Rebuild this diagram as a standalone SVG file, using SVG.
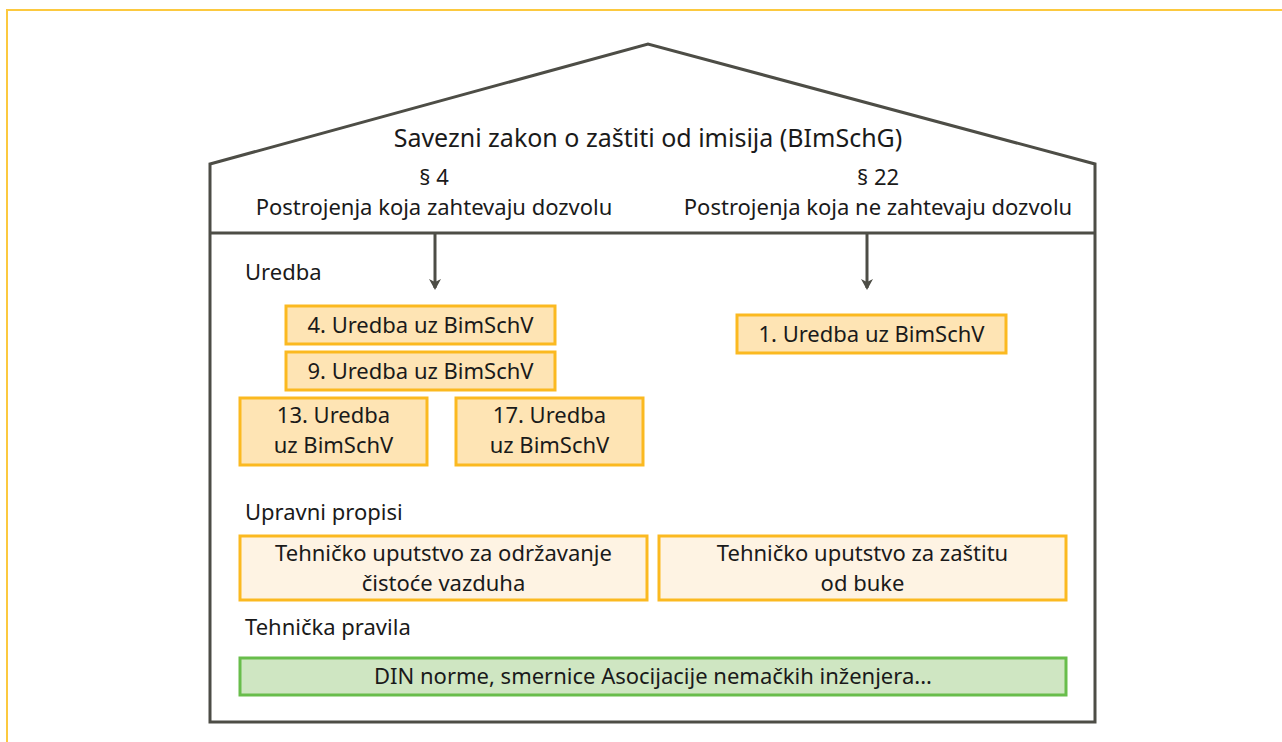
<svg xmlns="http://www.w3.org/2000/svg" width="1282" height="742" viewBox="0 0 1282 742">
<style>
text{font-family:"Noto Sans","Open Sans",sans-serif;font-size:22px;fill:#1a1a1a}
.c{text-anchor:middle}
.house{fill:none;stroke:#4d4d46;stroke-width:3}
.y1{fill:#fee4b4;stroke:#fbb920;stroke-width:3}
.y2{fill:#fef3e3;stroke:#fbb920;stroke-width:3}
.g{fill:#cfe6c2;stroke:#68bd4b;stroke-width:3}
.arr{stroke:#4d4d46;stroke-width:3;fill:none}
</style>
<defs>
<marker id="ah" markerWidth="12" markerHeight="12" refX="9" refY="6" orient="auto" markerUnits="userSpaceOnUse" viewBox="0 0 12 12">
<path d="M0,0 L3,6 L0,12 L11,6 Z" fill="#4d4d46"/>
</marker>
</defs>
<rect width="1282" height="742" fill="#fff"/>
<path d="M7,742 V10 H1282" fill="none" stroke="#fcc93f" stroke-width="2"/>
<g id="house">
<path class="house" d="M210,164 L648,44 L1095,164 L1095,722 L210,722 Z"/>
<line class="house" x1="210" y1="233" x2="1095" y2="233"/>
<text class="c" x="648" y="147" style="font-size:25px">Savezni zakon o zaštiti od imisija (BImSchG)</text>
</g>
<g id="par4">
<text class="c" x="434" y="185">§ 4</text>
<text class="c" x="434" y="215">Postrojenja koja zahtevaju dozvolu</text>
</g>
<g id="par22">
<text class="c" x="878" y="185">§ 22</text>
<text class="c" x="878" y="215">Postrojenja koja ne zahtevaju dozvolu</text>
</g>
<g id="connectors">
<line class="arr" x1="435" y1="233" x2="435" y2="288" marker-end="url(#ah)"/>
<line class="arr" x1="867" y1="233" x2="867" y2="288" marker-end="url(#ah)"/>
</g>
<g id="lbl-uredba"><text x="245" y="280">Uredba</text></g>
<g id="u4"><rect class="y1" x="286" y="306" width="269" height="38"/><text class="c" x="420.5" y="333">4. Uredba uz BimSchV</text></g>
<g id="u9"><rect class="y1" x="286" y="352" width="269" height="38"/><text class="c" x="420.5" y="379">9. Uredba uz BimSchV</text></g>
<g id="u13"><rect class="y1" x="240" y="398" width="187" height="67"/><text class="c" x="333.5" y="423">13. Uredba</text><text class="c" x="333.5" y="453">uz BimSchV</text></g>
<g id="u17"><rect class="y1" x="456" y="398" width="187" height="67"/><text class="c" x="549.5" y="423">17. Uredba</text><text class="c" x="549.5" y="453">uz BimSchV</text></g>
<g id="u1"><rect class="y1" x="737" y="315" width="269" height="38"/><text class="c" x="871.5" y="342">1. Uredba uz BimSchV</text></g>
<g id="lbl-upravni"><text x="245" y="520">Upravni propisi</text></g>
<g id="ta-luft"><rect class="y2" x="240" y="536" width="407" height="64"/><text class="c" x="443.5" y="561">Tehničko uputstvo za održavanje</text><text class="c" x="443.5" y="591">čistoće vazduha</text></g>
<g id="ta-larm"><rect class="y2" x="659" y="536" width="407" height="64"/><text class="c" x="862.5" y="561">Tehničko uputstvo za zaštitu</text><text class="c" x="862.5" y="591">od buke</text></g>
<g id="lbl-tehnicka"><text x="245" y="635">Tehnička pravila</text></g>
<g id="din"><rect class="g" x="240" y="658" width="826" height="37"/><text class="c" x="653" y="684">DIN norme, smernice Asocijacije nemačkih inženjera...</text></g>
</svg>
